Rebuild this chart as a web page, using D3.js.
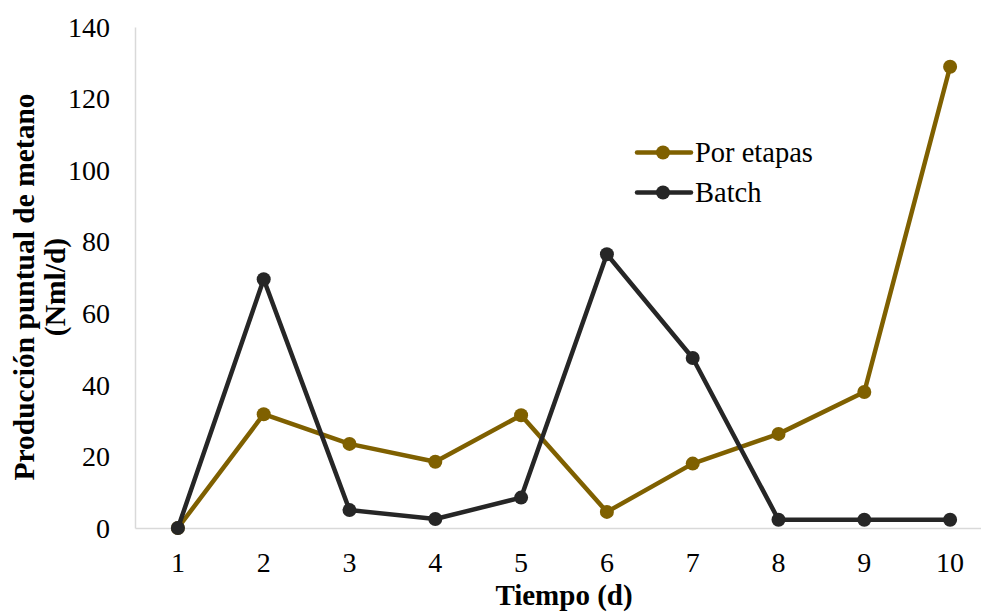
<!DOCTYPE html>
<html>
<head>
<meta charset="utf-8">
<script src="https://cdn.jsdelivr.net/npm/d3@7"></script>
<style>
  body { margin: 0; background: #fff; }
  text { font-family: "Liberation Serif", "Times New Roman", serif; fill: #000; }
</style>
</head>
<body>
<div class="chart"></div>
<script>
// data
const days = ["1", "2", "3", "4", "5", "6", "7", "8", "9", "10"];
const porEtapas = [0, 31.8, 23.5, 18.5, 31.5, 4.5, 18, 26.3, 38, 128.9];
const batch = [0, 69.5, 5, 2.5, 8.5, 76.5, 47.5, 2.3, 2.3, 2.3];
const yTicks = [0, 20, 40, 60, 80, 100, 120, 140];

const seriesNames = ["Por etapas", "Batch"];
const colors = ["#7f6000", "#262626"];

var W = 981, H = 613;
var margin = { top: 27, right: -12, bottom: 85, left: 135 };
var width = W - margin.left - margin.right,
  height = H - margin.top - margin.bottom;

const svg = d3.select(".chart").append("svg")
  .attr("width", W)
  .attr("height", H);

const g = svg.append("g")
  .attr("transform", "translate(" + margin.left + "," + margin.top + ")");

const x = d3.scaleBand().domain(days).range([0, width]);
const y = d3.scaleLinear().domain([0, 140]).range([height, 0]);

// axes
const yAxis = g.append("g")
  .call(d3.axisLeft(y).tickValues(yTicks).tickSize(0).tickPadding(25));
yAxis.select(".domain").attr("stroke", "#d9d9d9").attr("stroke-width", 1.5);
yAxis.selectAll("text").style("font-size", "28px").attr("font-family", null).attr("dy", "0.33em");

const xAxis = g.append("g")
  .attr("transform", "translate(0," + height + ")")
  .call(d3.axisBottom(x).tickSize(0).tickPadding(24));
xAxis.select(".domain").attr("stroke", "#d9d9d9").attr("stroke-width", 1.5);
xAxis.selectAll("text").style("font-size", "28px").attr("font-family", null);

// axis titles
svg.append("text")
  .attr("x", margin.left + width / 2)
  .attr("y", 605)
  .attr("text-anchor", "middle")
  .style("font-size", "29px")
  .style("font-weight", "bold")
  .text("Tiempo (d)");

const yTitle = svg.append("text")
  .attr("transform", "translate(34,287) rotate(-90)")
  .attr("text-anchor", "middle")
  .style("font-size", "29.5px")
  .style("font-weight", "bold");
yTitle.append("tspan").attr("x", 0).attr("y", 0).text("Producción puntual de metano");
yTitle.append("tspan").attr("x", 0).attr("y", 31).text("(Nml/d)");

// lines
const line = d3.line()
  .x(function (d, i) { return x(days[i]) + x.bandwidth() / 2; })
  .y(function (d) { return y(d); });

[porEtapas, batch].forEach(function (vals, k) {
  const s = g.append("g");
  s.append("path")
    .attr("d", line(vals))
    .attr("fill", "none")
    .attr("stroke", colors[k])
    .attr("stroke-width", 4.5)
    .attr("stroke-linejoin", "round");
  s.selectAll("circle").data(vals).enter().append("circle")
    .attr("cx", function (d, i) { return x(days[i]) + x.bandwidth() / 2; })
    .attr("cy", function (d) { return y(d); })
    .attr("r", 7)
    .attr("fill", colors[k]);
});

// legend
const legend = svg.append("g").attr("transform", "translate(637,152.5)");
seriesNames.forEach(function (name, k) {
  const row = legend.append("g").attr("transform", "translate(0," + (k * 40) + ")");
  row.append("line")
    .attr("x1", 0).attr("x2", 54)
    .attr("stroke", colors[k])
    .attr("stroke-width", 4.5)
    .attr("stroke-linecap", "round");
  row.append("circle").attr("cx", 26).attr("r", 7).attr("fill", colors[k]);
  row.append("text")
    .attr("x", 58)
    .attr("dy", "0.33em")
    .style("font-size", "28.5px")
    .text(name);
});
</script>
</body>
</html>
